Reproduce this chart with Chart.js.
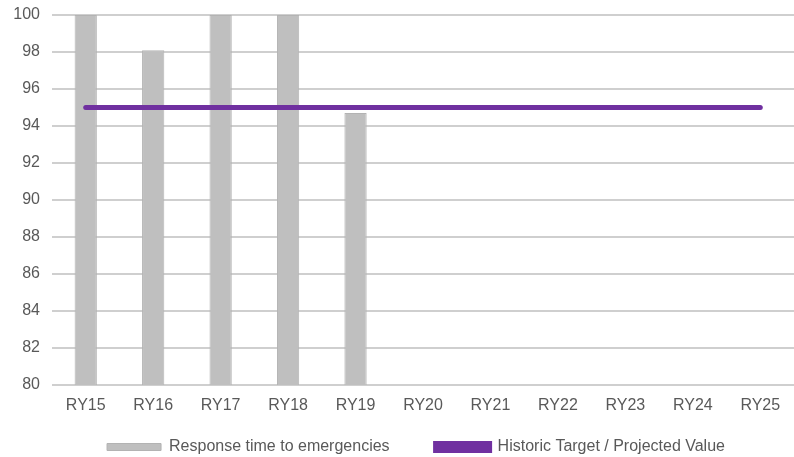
<!DOCTYPE html>
<html>
<head>
<meta charset="utf-8">
<script src="https://cdn.jsdelivr.net/npm/chart.js@4"></script>
<style>
  body { margin: 0; background: #fff; }
  canvas { display: block; }
</style>
</head>
<body>
<canvas id="chart" width="794" height="457"></canvas>
<script>
// chart data
const years = ['RY15', 'RY16', 'RY17', 'RY18', 'RY19', 'RY20', 'RY21', 'RY22', 'RY23', 'RY24', 'RY25'];
const responseTime = [100, 98.1, 100, 100, 94.7, null, null, null, null, null, null];
const target = [95, 95, 95, 95, 95, 95, 95, 95, 95, 95, 95];
const yMin = 80;
const yMax = 100;
const yStep = 2;

const textColor = '#595959';
const gridColor = '#cfcfcf';
const fontFamily = 'Liberation Sans, Arial, sans-serif';

// legend uses a wide gap between items, but shouldn't eat that much height;
// it also sits a bit right of centre in the original
const legendTweak = {
    id: 'legendTweak',
    afterInit(chart) {
        const legend = chart.legend;
        const fit = legend.fit;
        legend.fit = function () {
            fit.call(this);
            this.height = 40;
        };
    },
    afterLayout(chart) {
        const legend = chart.legend;
        legend.left += 19;
        legend.right += 19;
        legend.top = 393;
        legend.bottom = chart.height;
        legend.height = legend.bottom - legend.top;
    }
};

const config = {
    data: {
        labels: years,
        datasets: [
            {
                type: 'line',
                label: 'Historic Target / Projected Value',
                data: target,
                borderColor: '#7030a0',
                backgroundColor: '#7030a0',
                borderWidth: 5,
                borderCapStyle: 'round',
                pointRadius: 0,
                order: 0
            },
            {
                type: 'bar',
                label: 'Response time to emergencies',
                data: responseTime,
                backgroundColor: '#bfbfbf',
                borderColor: '#b3b3b3',
                borderWidth: 1,
                barPercentage: 0.33,
                categoryPercentage: 1,
                order: 1
            }
        ]
    },
    options: {
        responsive: false,
        animation: false,
        layout: {
            padding: { top: 15, right: 0, left: 0, bottom: 0 }
        },
        scales: {
            x: {
                grid: { display: false, drawTicks: false },
                border: { display: false },
                ticks: {
                    color: textColor,
                    padding: 11,
                    font: { family: fontFamily, size: 16 }
                },
                afterFit: (scale) => { scale.height = 32; }
            },
            y: {
                min: yMin,
                max: yMax,
                grid: { color: gridColor, lineWidth: 2, drawTicks: false },
                border: { display: false },
                ticks: {
                    stepSize: yStep,
                    color: textColor,
                    padding: 12,
                    font: { family: fontFamily, size: 16 }
                },
                afterFit: (scale) => {
                    scale.width = 52;
                    scale.paddingTop = 0;
                    scale.paddingBottom = 0;
                }
            }
        },
        plugins: {
            legend: {
                position: 'bottom',
                reverse: true,
                labels: {
                    color: textColor,
                    boxWidth: 54,
                    boxHeight: 7,
                    padding: 46,
                    font: { family: fontFamily, size: 16 }
                }
            },
            tooltip: { enabled: false }
        }
    },
    plugins: [legendTweak]
};

new Chart(document.getElementById('chart'), config);
</script>
</body>
</html>
